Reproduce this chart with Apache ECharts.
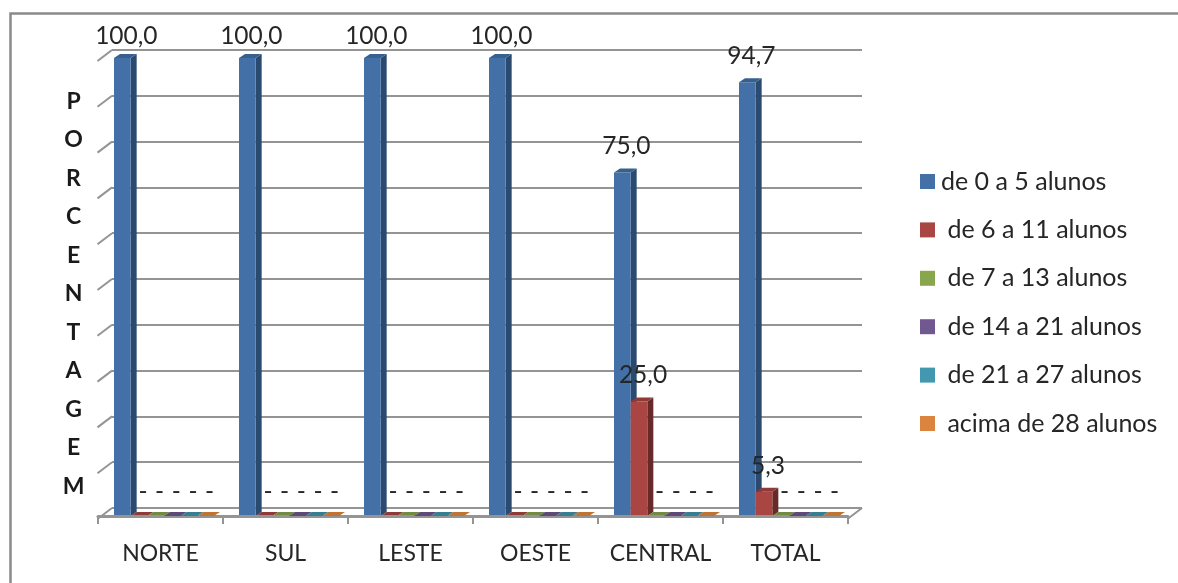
<!DOCTYPE html>
<html>
<head>
<meta charset="utf-8">
<style>html,body{margin:0;padding:0;background:#fff}#c{width:1178px;height:583px}</style>
<script src="https://cdn.jsdelivr.net/npm/echarts@6/dist/echarts.min.js"></script>
</head>
<body>
<div id="c"></div>
<script>
const categories = ['NORTE','SUL','LESTE','OESTE','CENTRAL','TOTAL'];
const grupo0a5   = [100,100,100,100,75,94.7];
const grupo6a11  = [0,0,0,0,25,5.3];
const grupo7a13  = [0,0,0,0,0,0];
const grupo14a21 = [0,0,0,0,0,0];
const grupo21a27 = [0,0,0,0,0,0];
const grupo28    = [0,0,0,0,0,0];
const wallTicks  = [0,10,20,30,40,50,60,70,80,90,100];
const yTitle = 'P\nO\nR\nC\nE\nN\nT\nA\nG\nE\nM';

const FONT = 'Lato, "Open Sans", sans-serif';
const TXT = '#262626';
const GRID = '#949494';

const seriesDefs = [
  {name:'de 0 a 5 alunos',    data:grupo0a5,   front:'#4371A7', side:'#2B4A70', top:'#38608F'},
  {name:' de 6 a 11 alunos',  data:grupo6a11,  front:'#A94543', side:'#682A29', top:'#8E3A38'},
  {name:' de 7 a 13 alunos',  data:grupo7a13,  front:'#89A54E', side:'#566832', top:'#728A41'},
  {name:' de 14 a 21 alunos', data:grupo14a21, front:'#71588F', side:'#46375A', top:'#5E4A78'},
  {name:' de 21 a 27 alunos', data:grupo21a27, front:'#4198AF', side:'#295F6E', top:'#367F92'},
  {name:' acima de 28 alunos',data:grupo28,    front:'#DB843D', side:'#8A5326', top:'#C07433'}
];

function fmt(v){ return v === 0 ? '-' : v.toFixed(1).replace('.', ','); }

function bar3d(def, idx){
  return function(params, api){
    const cat = api.value(0), v = api.value(1);
    const band = api.size([1,0])[0];
    const w = band * 0.1333, dx = 6, dy = 4;
    const c = api.coord([cat, v]);
    const base = api.coord([cat, 0]);
    const x0 = c[0] - band * 0.372 + idx * w, x1 = x0 + w;
    const yT = c[1], yB = base[1];
    const labelNudge = v === 100 ? 22 : v === 0 ? 24 : 26;
    const children = [
      {type:'polygon', shape:{points:[[x1,yT],[x1+dx,yT-dy],[x1+dx,yB-dy],[x1,yB]]}, style:{fill:def.side}},
      {type:'rect', shape:{x:x0,y:yT,width:w,height:yB-yT}, style:{fill:def.front}},
      {type:'polygon', shape:{points:[[x0,yT],[x1,yT],[x1+dx,yT-dy],[x0+dx,yT-dy]]}, style:{fill:def.top}},
      {type:'text', z2:50, style:{text:fmt(v), x:(x0+x1)/2+4, y:yT-labelNudge, fill:TXT,
        font:'24.5px '+FONT, textAlign:'center', textVerticalAlign:'middle'}}
    ];
    return {type:'group', children};
  };
}

function wall(params, api){
  const v = api.value(0);
  const p = api.coord([0, v]);
  const left = params.coordSys.x, right = left + params.coordSys.width;
  const depthX = 14.5, depthY = 11;
  const children = [{type:'line', shape:{x1:left, y1:p[1], x2:left-depthX, y2:p[1]+depthY},
    style:{stroke:GRID, lineWidth:2}}];
  if (v === 0) {
    children.push({type:'line', shape:{x1:right, y1:p[1], x2:right-depthX, y2:p[1]+depthY},
      style:{stroke:GRID, lineWidth:2}});
  }
  return {type:'group', children};
}

const chart = echarts.init(document.getElementById('c'), null, {renderer:'canvas'});
chart.setOption({
  animation:false,
  backgroundColor:'#ffffff',
  title:{text:yTitle, left:73.5, top:82, textAlign:'center', padding:0,
    textStyle:{fontFamily:FONT, fontSize:23, fontWeight:'bold', color:'#1a1a1a', lineHeight:38.5}},
  legend:{
    orient:'vertical', left:920, top:169, itemWidth:15, itemHeight:15, itemGap:23.4, padding:0,
    icon:'rect',
    data:seriesDefs.map(d=>d.name),
    textStyle:{fontFamily:FONT, fontSize:25, color:TXT, padding:[0,0,0,1], lineHeight:15},
    selectedMode:false
  },
  graphic:[
    {type:'polyline', silent:true, shape:{points:[[10.5,583],[10.5,13.5],[1178,13.5]]},
      style:{fill:'none', stroke:'#8A8A8A', lineWidth:2.5}}
  ],
  grid:[
    {left:112, right:316, top:50, bottom:75},
    {left:98,  right:330, top:58, bottom:67}
  ],
  xAxis:[
    {gridIndex:0, type:'category', data:categories, show:false},
    {gridIndex:1, type:'category', data:categories, offset:3,
      axisLine:{show:true, lineStyle:{color:GRID, width:3}},
      axisTick:{show:true, length:8, lineStyle:{color:GRID, width:2}},
      axisLabel:{fontFamily:FONT, fontSize:23, color:TXT, margin:23, interval:0},
      z:5}
  ],
  yAxis:[
    {gridIndex:0, type:'value', min:0, max:100, interval:10,
      axisLine:{show:false}, axisTick:{show:false}, axisLabel:{show:false},
      splitLine:{show:true, lineStyle:{color:GRID, width:2}}},
    {gridIndex:1, type:'value', min:0, max:100, interval:10, show:false, splitLine:{show:false}}
  ],
  series:[
    {name:'parede', type:'custom', xAxisIndex:0, yAxisIndex:0, clip:false, silent:true, z:1,
      encode:{y:0}, data:wallTicks.map(v=>[v]), renderItem:wall},
    ...seriesDefs.map((d,i)=>({
      name:d.name, type:'custom', xAxisIndex:1, yAxisIndex:1, clip:false, z:3+i,
      itemStyle:{color:d.front},
      encode:{x:0,y:1},
      data:d.data.map((v,k)=>[k,v]),
      renderItem:bar3d(d,i)
    }))
  ]
});
</script>
</body>
</html>
